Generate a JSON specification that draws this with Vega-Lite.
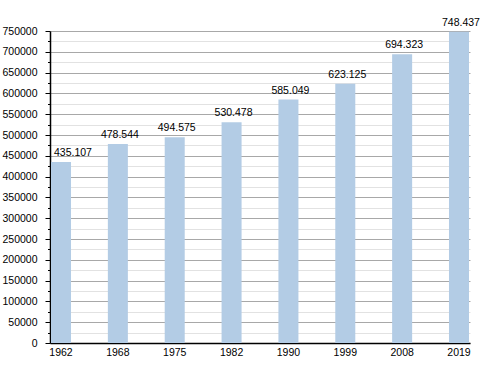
{
  "$schema": "https://vega.github.io/schema/vega-lite/v6.json",
  "width": 420,
  "height": 312,
  "autosize": "none",
  "padding": {"left": 50, "top": 31, "right": 30, "bottom": 30},
  "config": {
    "locale": {"number": {"decimal": ",", "thousands": ".", "grouping": [3], "currency": ["", ""]}},
    "view": {"stroke": null},
    "font": "Liberation Sans"
  },
  "data": {
    "values": [
      {"year": "1962", "pop": 435107},
      {"year": "1968", "pop": 478544},
      {"year": "1975", "pop": 494575},
      {"year": "1982", "pop": 530478},
      {"year": "1990", "pop": 585049},
      {"year": "1999", "pop": 623125},
      {"year": "2008", "pop": 694323},
      {"year": "2019", "pop": 748437}
    ]
  },
  "encoding": {
    "x": {
      "field": "year",
      "type": "ordinal",
      "scale": {"paddingInner": 0.648, "paddingOuter": 0.0176},
      "axis": {
        "title": null,
        "labelAngle": 0,
        "ticks": false,
        "labelPadding": 4,
        "labelFontSize": 10.5,
        "labelColor": "#000",
        "domainColor": "#000",
        "domainWidth": 1.5,
        "grid": false
      }
    },
    "y": {
      "field": "pop",
      "type": "quantitative",
      "scale": {"domain": [0, 750000], "nice": false},
      "axis": {
        "title": null,
        "format": "d",
        "values": [0, 25000, 50000, 75000, 100000, 125000, 150000, 175000, 200000, 225000, 250000, 275000, 300000, 325000, 350000, 375000, 400000, 425000, 450000, 475000, 500000, 525000, 550000, 575000, 600000, 625000, 650000, 675000, 700000, 725000, 750000],
        "labelExpr": "datum.value % 50000 === 0 ? datum.label : ''",
        "labelFontSize": 10.5,
        "labelColor": "#000",
        "labelPadding": 8,
        "tickSize": {"condition": {"test": "datum.value % 50000 === 0", "value": 5}, "value": 2.5},
        "tickColor": "#000",
        "domainColor": "#000",
        "domainWidth": 1.5,
        "grid": true,
        "gridColor": {"condition": {"test": "datum.value % 50000 === 0", "value": "#a8a8a8"}, "value": "#e2e2e2"},
        "tickWidth": 1
      }
    }
  },
  "layer": [
    {
      "mark": {"type": "bar", "color": "#b3cce5"}
    },
    {
      "transform": [{"filter": "datum.year !== '1962'"}],
      "mark": {"type": "text", "baseline": "bottom", "dy": -4, "dx": 2, "fontSize": 10.5, "color": "#000"},
      "encoding": {"text": {"field": "pop", "type": "quantitative", "format": ",d"}}
    },
    {
      "transform": [{"filter": "datum.year === '1962'"}],
      "mark": {"type": "text", "baseline": "bottom", "align": "left", "dy": -4, "dx": -7, "fontSize": 10.5, "color": "#000"},
      "encoding": {"text": {"field": "pop", "type": "quantitative", "format": ",d"}}
    }
  ]
}
